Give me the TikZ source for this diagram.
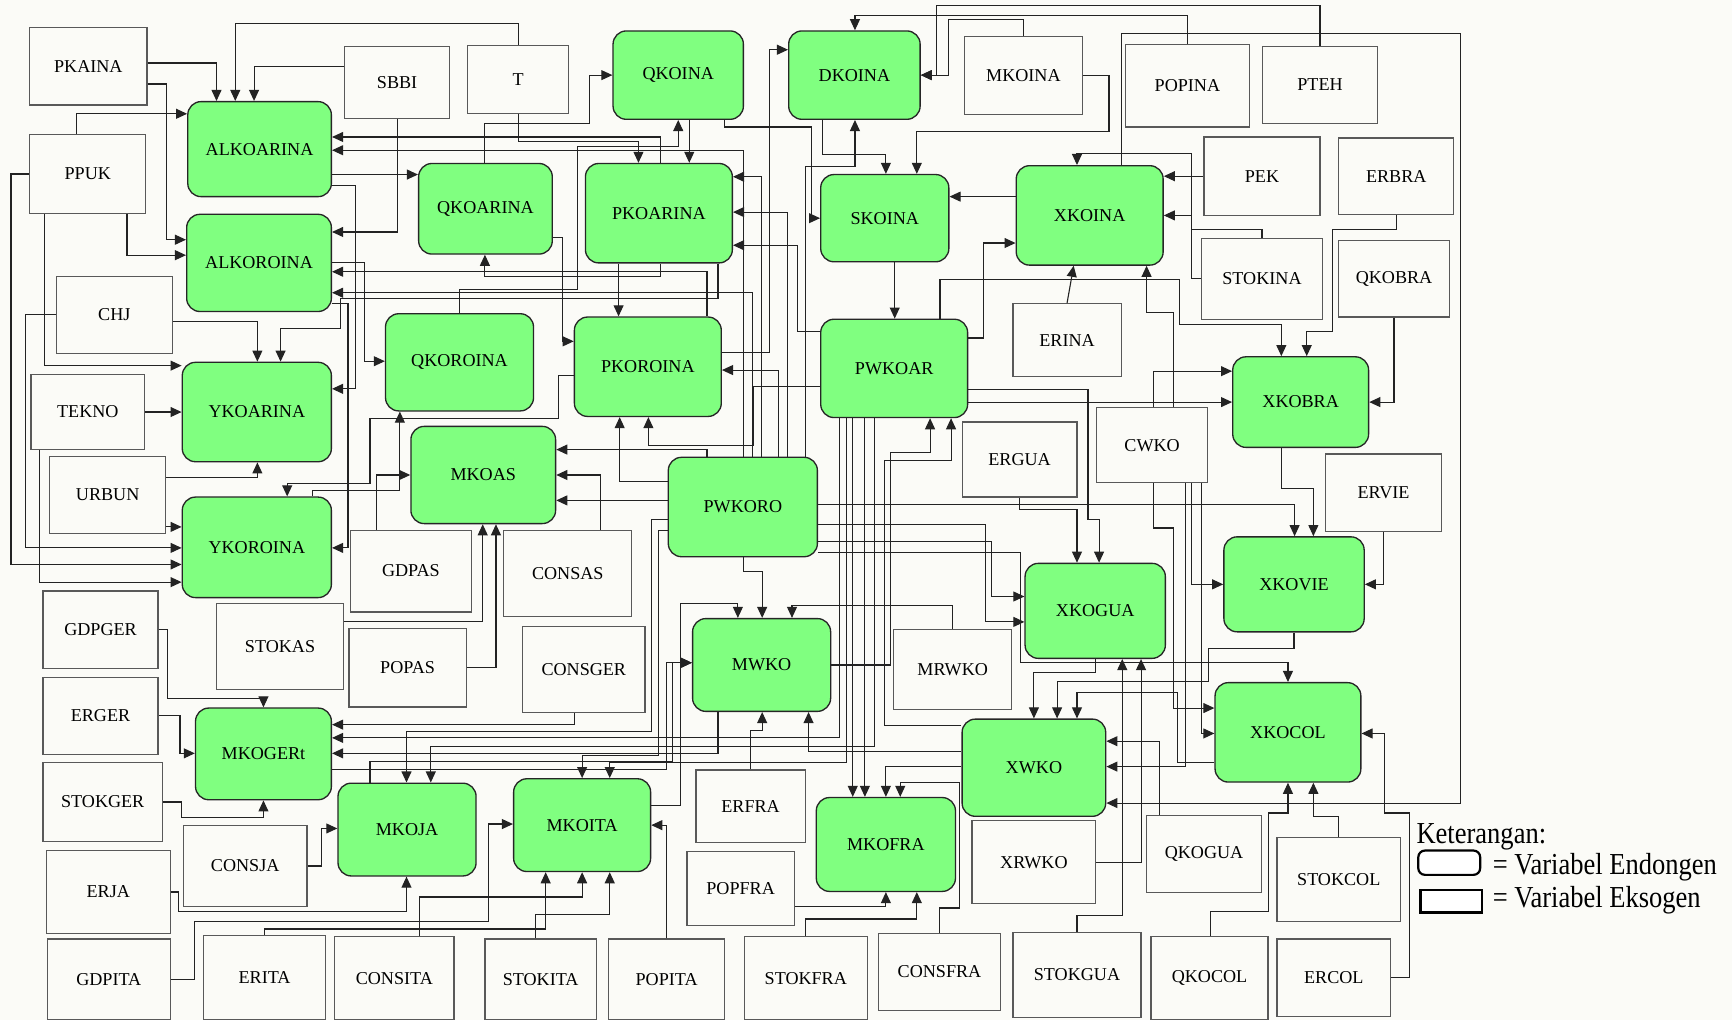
\documentclass[tikz,border=0pt]{standalone}
\usepackage{fontspec}
\setmainfont{Liberation Serif}
\newfontfamily\legfont[FakeStretch=0.87]{Liberation Serif}
\usetikzlibrary{arrows.meta}
\definecolor{endogreen}{RGB}{128,255,128}
\definecolor{paper}{RGB}{251,251,247}
\definecolor{wire}{RGB}{35,35,35}

\begin{document}
\begin{tikzpicture}[
	x=0.5pt, y=-0.5pt,
	exo/.style={
		rectangle,
		draw=black!65,
		line width=0.55pt,
		fill=paper,
		align=center,
		inner sep=0pt,
		font=\fontsize{8.2}{9}\selectfont
	},
	endo/.style={
		rectangle,
		draw=black!85,
		line width=0.6pt,
		rounded corners=6pt,
		fill=endogreen,
		align=center,
		inner sep=0pt,
		font=\fontsize{8.2}{9}\selectfont
	},
	arr/.style={
		draw=wire,
		line width=0.5pt,
		-{Triangle[length=5pt,width=4.5pt]}
	},
	legtext/.style={
		anchor=west,
		inner sep=0pt,
		font=\legfont\fontsize{13.8}{15}\selectfont
	},
]

\useasboundingbox (0,0) rectangle (1568,923);
\fill[paper] (0,0) rectangle (1568,923);

% exogenous variables
\foreach \n/\x/\y/\w/\h in {PKAINA/80/60/106/70, SBBI/359.5/74.5/95/65, T/469/72/92/62,
	MKOINA/926.5/68.5/107/71, POPINA/1075/77.5/112/75, PTEH/1195/77/104/70,
	PPUK/79.5/157.5/105/71, PEK/1142.5/159.5/105/71, ERBRA/1264/159.5/104/69,
	CHJ/103.5/285/105/70, STOKINA/1142.5/252.5/109/73, QKOBRA/1262/252.5/100/69,
	ERINA/966/308/98/66, TEKNO/79.5/373/103/68, ERGUA/923/416/104/68,
	CWKO/1043/403/100/68, URBUN/97.5/448/105/70, ERVIE/1252.5/446/105/70,
	GDPAS/372/517/110/74, CONSAS/514/519/116/78, GDPGER/91/570/104/70,
	STOKAS/253.5/585/115/78, POPAS/369/604.5/106/71, CONSGER/528.5/606/111/78,
	MRWKO/862.5/606/107/72, ERGER/91/648/104/70, STOKGER/93/726/108/72,
	ERFRA/679.5/730/99/66, CONSJA/222/784/112/74, XRWKO/936/780.5/112/75,
	QKOGUA/1090/773/104/70, STOKCOL/1212/796/112/76, ERJA/98/807.5/112/75,
	POPFRA/670.5/804.5/97/67, GDPITA/98.5/886.5/111/73, ERITA/239.5/885/111/76,
	CONSITA/357/885.5/108/75, STOKITA/489.5/886.5/101/73, POPITA/603.5/886.5/105/73,
	STOKFRA/729.5/885.5/111/75, CONSFRA/850.5/880/111/70, STOKGUA/975/882.5/116/77,
	QKOCOL/1095/885.5/106/75, ERCOL/1207.5/885/103/70}
	\node[exo, minimum width=\w*0.5pt, minimum height=\h*0.5pt] (\n) at (\x,\y) {\n};

% endogenous variables
\foreach \n/\x/\y/\w/\h in {ALKOARINA/235/135/130/86, ALKOROINA/234.5/238/131/88,
	QKOARINA/439.5/189/121/82, QKOINA/614/68/118/80, DKOINA/773.5/68/119/80,
	PKOARINA/596.5/193/133/90, SKOINA/801/197.5/116/79, XKOINA/986.5/195/133/90,
	YKOARINA/232.5/373/135/90, QKOROINA/416/328/134/88, PKOROINA/586.5/332/133/90,
	PWKOAR/809.5/333.5/133/89, XKOBRA/1177.5/364/123/82, MKOAS/437.5/430/131/88,
	PWKORO/672.5/459/135/90, YKOROINA/232.5/495.5/135/91, XKOVIE/1171.5/529/127/86,
	XKOGUA/991.5/553/127/86, MWKO/689.5/602/125/84, MKOGERt/238.5/682.5/123/83,
	XKOCOL/1166/663/132/90, XWKO/936/695/130/88, MKOJA/368.5/751/125/84,
	MKOITA/527/747/124/84, MKOFRA/802/764.5/126/85}
	\node[endo, minimum width=\w*0.5pt, minimum height=\h*0.5pt] (\n) at (\x,\y) {\n};

% Indonesia: area, yield, production
\draw[arr] (PKAINA.east |- 0,57) -| (ALKOARINA.north -| 196,0);
\draw[arr] (T.north) |- (213,21) -- (ALKOARINA.north -| 213,0);
\draw[arr] (SBBI.west |- 0,60) -| (ALKOARINA.north -| 230,0);
\draw[arr] (PPUK.north -| 69,0) |- (ALKOARINA.west |- 0,103);
\draw[arr] (PKOARINA.north -| 598,0) |- (ALKOARINA.east |- 0,124);
\draw[arr] (PWKORO.north -| 673,0) |- (ALKOARINA.east |- 0,136);
\draw[arr] (PKAINA.east |- 0,76) -| (151,217) -- (ALKOROINA.west |- 0,217);
\draw[arr] (PPUK.south -| 115,0) |- (ALKOROINA.west |- 0,231);
\draw[arr] (SBBI.south) |- (ALKOROINA.east |- 0,210);
\draw[arr] (PKOROINA.north -| 640,0) |- (ALKOROINA.east |- 0,246);
\draw[arr] (PWKORO.north -| 681,0) |- (ALKOROINA.east |- 0,265);
\draw[arr] (ALKOARINA.east |- 0,158) -- (QKOARINA.west |- 0,158);
\draw[arr] (PKOARINA.south -| 598,0) |- (439,250) -- (QKOARINA.south -| 439,0);
\draw[arr] (QKOARINA.north -| 439,0) |- (534,112) |- (QKOINA.west);
\draw[arr] (QKOROINA.north -| 416,0) |- (523,262) |- (614,133) -- (QKOINA.south -| 614,0);
\draw[arr] (QKOINA.south -| 624,0) -- (PKOARINA.north -| 624,0);
\draw[arr] (T.south) |- (578,128) -- (PKOARINA.north -| 578,0);
\draw[arr] (PWKORO.north -| 689,0) |- (PKOARINA.east |- 0,160);
\draw[arr] (PWKORO.north -| 713,0) |- (PKOARINA.east |- 0,192);
\draw[arr] (PWKOAR.west |- 0,300) -| (722,222) -- (PKOARINA.east |- 0,222);
\draw[arr] (PKOARINA.south -| 560,0) -- (PKOROINA.north -| 560,0);
\draw[arr] (QKOARINA.east |- 0,215) -| (509,309) -- (PKOROINA.west |- 0,309);
\draw[arr] (PWKORO.north -| 705,0) |- (PKOROINA.east |- 0,335);
\draw[arr] (PWKORO.west |- 0,436) -| (PKOROINA.south -| 561,0);
\draw[arr] (PWKOAR.west |- 0,350) -| (682,403) -| (PKOROINA.south -| 587,0);
\draw[arr] (ALKOROINA.east |- 0,238) -| (330,327) -- (QKOROINA.west |- 0,327);
\draw[arr] (YKOROINA.north -| 283,0) |- (362,444) -- (QKOROINA.south -| 362,0);
\draw[arr] (PPUK.south -| 40,0) |- (YKOARINA.west |- 0,331);
\draw[arr] (CHJ.east |- 0,291) -| (YKOARINA.north -| 233,0);
\draw[arr] (TEKNO.east) -- (YKOARINA.west |- TEKNO.east);
\draw[arr] (URBUN.east |- 0,432) -| (YKOARINA.south -| 233,0);
\draw[arr] (ALKOARINA.east |- 0,168) -| (322,352) -- (YKOARINA.east |- 0,352);
\draw[arr] (PKOARINA.south -| 650,0) |- (308,270) |- (254,297) -- (YKOARINA.north -| 254,0);
\draw[arr] (URBUN.east |- 0,477) -- (YKOROINA.west |- 0,477);
\draw[arr] (CHJ.west) -| (23,496) -- (YKOROINA.west |- 0,496);
\draw[arr] (PPUK.west) -| (10,511) -- (YKOROINA.west |- 0,511);
\draw[arr] (TEKNO.south -| 36,0) |- (YKOROINA.west |- 0,527);
\draw[arr] (PKOROINA.west |- 0,340) -| (506,379) -| (335,438) -| (YKOROINA.north -| 260,0);
\draw[arr] (ALKOROINA.east |- 0,275) -| (315,496) -- (YKOROINA.east |- 0,496);

% Indonesia: price, stock, export
\draw[arr] (POPINA.north) |- (774,14) -- (DKOINA.north -| 774,0);
\draw[arr] (PTEH.north) |- (848,5) |- (DKOINA.east);
\draw[arr] (MKOINA.north) |- (859,18) |- (DKOINA.east);
\draw[arr] (PKOROINA.east |- 0,319) -| (697,45) -- (DKOINA.west |- 0,45);
\draw[arr] (PWKORO.north -| 729,0) |- (774,151) -- (DKOINA.south -| 774,0);
\draw[arr] (QKOINA.south -| 656,0) |- (735,115) |- (SKOINA.west);
\draw[arr] (DKOINA.south -| 745,0) |- (802,140) -- (SKOINA.north -| 802,0);
\draw[arr] (MKOINA.east) -| (1004,119) -| (SKOINA.north -| 830,0);
\draw[arr] (XKOINA.west |- 0,178) -- (SKOINA.east |- 0,178);
\draw[arr] (STOKINA.north) |- (1079,208) |- (975,139) -- (XKOINA.north -| 975,0);
\draw[arr] (PEK.west) -- (XKOINA.east |- PEK.west);
\draw[arr] (STOKINA.west) -| (1079,195) -- (XKOINA.east |- 0,195);
\draw[arr] (ERINA.north) -- (XKOINA.south -| 972,0);
\draw[arr] (CWKO.north -| 1062,0) |- (1038,283) -- (XKOINA.south -| 1038,0);
\draw[arr] (PWKOAR.east |- 0,306) -| (890,220) -- (XKOINA.west |- 0,220);

% world price and exporters
\draw[arr] (SKOINA.south -| 810,0) -- (PWKOAR.north -| 810,0);
\draw[arr] (MWKO.east) -| (806,410) -| (PWKOAR.south -| 842,0);
\draw[arr] (XWKO.west |- 0,657) -| (801,417) -| (PWKOAR.south -| 861,0);
\draw[arr] (PWKOAR.north -| 851,0) |- (1068,253) |- (1160,294) -- (XKOBRA.north -| 1160,0);
\draw[arr] (ERBRA.south) |- (1206,208) |- (1183,300) -- (XKOBRA.north -| 1183,0);
\draw[arr] (QKOBRA.south) |- (XKOBRA.east |- 0,364);
\draw[arr] (CWKO.north -| 1044,0) |- (XKOBRA.west |- 0,336);
\draw[arr] (PWKOAR.east |- 0,364) -- (XKOBRA.west |- 0,364);
\draw[arr] (PWKOAR.east |- 0,353) -| (985,470) -| (XKOGUA.north -| 995,0);
\draw[arr] (XKOBRA.south -| 1160,0) |- (1189,442) -- (XKOVIE.north -| 1189,0);
\draw[arr] (PWKORO.east |- 0,457) -| (XKOVIE.north -| 1172,0);
\draw[arr] (CWKO.south -| 1079,0) |- (XKOVIE.west |- 0,529);
\draw[arr] (ERVIE.south) |- (XKOVIE.east |- 0,529);
\draw[arr] (ERGUA.south) |- (975,461) -- (XKOGUA.north -| 975,0);
\draw[arr] (PWKORO.east |- 0,490) -| (898,540) -- (XKOGUA.west |- 0,540);
\draw[arr] (PWKORO.east |- 0,475) -| (892,563) -- (XKOGUA.west |- 0,563);
\draw[arr] (STOKGUA.north) |- (1016,829) -- (XKOGUA.south -| 1016,0);
\draw[arr] (XRWKO.east) -| (XKOGUA.south -| 1033,0);
\draw[arr] (PWKORO.east |- 0,500) -| (924,600) -| (XKOCOL.north -| 1166,0);
\draw[arr] (CWKO.south -| 1044,0) |- (1062,478) |- (XKOCOL.west |- 0,641);
\draw[arr] (CWKO.south -| 1088,0) |- (XKOCOL.west |- 0,664);
\draw[arr] (ERCOL.east) -| (1276,736) -| (1253,664) -- (XKOCOL.east |- 0,664);
\draw[arr] (QKOCOL.north -| 1096,0) |- (1148,825) |- (1166,736) -- (XKOCOL.south -| 1166,0);
\draw[arr] (STOKCOL.north) |- (1189,739) -- (XKOCOL.south -| 1189,0);
\draw[arr] (XKOGUA.south -| 992,0) |- (936,609) -- (XWKO.north -| 936,0);
\draw[arr] (XKOVIE.south) |- (1094,587) |- (957,617) -- (XWKO.north -| 957,0);
\draw[arr] (XKOCOL.west |- 0,690) -| (1066,627) -| (XWKO.north -| 975,0);
\draw[arr] (QKOGUA.north -| 1050,0) |- (XWKO.east |- 0,671);
\draw[arr] (CWKO.south -| 1073,0) |- (XWKO.east |- 0,694);
\draw[arr] (XKOINA.north -| 1015,0) |- (1322,30) |- (XWKO.east |- 0,727);

% importers
\draw[arr] (PWKORO.south -| 673,0) |- (690,517) -- (MWKO.north -| 690,0);
\draw[arr] (MRWKO.north) |- (717,548) -- (MWKO.north -| 717,0);
\draw[arr] (MKOITA.east |- 0,729) -| (616,546) -| (MWKO.north -| 668,0);
\draw[arr] (MKOGERt.east |- 0,697) -| (603,600) -- (MWKO.west |- 0,600);
\draw[arr] (MKOJA.north -| 335,0) |- (609,689) |- (MWKO.west |- 0,600);
\draw[arr] (ERFRA.north) |- (690,661) -- (MWKO.south -| 690,0);
\draw[arr] (XWKO.west |- 0,680) -| (MWKO.south -| 732,0);
\draw[arr] (PWKOAR.south -| 772,0) -- (MKOFRA.north -| 772,0);
\draw[arr] (PWKOAR.south -| 783,0) -- (MKOFRA.north -| 783,0);
\draw[arr] (XWKO.west |- 0,694) -| (MKOFRA.north -| 802,0);
\draw[arr] (CONSFRA.north) |- (869,822) |- (815,708) -- (MKOFRA.north -| 815,0);
\draw[arr] (POPFRA.east |- 0,821) -| (MKOFRA.south -| 802,0);
\draw[arr] (STOKFRA.north) |- (830,832) -- (MKOFRA.south -| 830,0);
\draw[arr] (GDPGER.east) -| (152,632) -| (MKOGERt.north);
\draw[arr] (ERGER.east) -| (163,682) -- (MKOGERt.west |- 0,682);
\draw[arr] (STOKGER.east) -| (164,740) -| (MKOGERt.south);
\draw[arr] (CONSGER.south -| 520,0) |- (MKOGERt.east |- 0,656);
\draw[arr] (PWKOAR.south -| 760,0) |- (MKOGERt.east |- 0,668);
\draw[arr] (MWKO.south -| 650,0) |- (MKOGERt.east |- 0,682);
\draw[arr] (CONSJA.east |- 0,784) -| (291,750) -- (MKOJA.west |- 0,750);
\draw[arr] (ERJA.east) -| (162,825) -| (MKOJA.south -| 368,0);
\draw[arr] (PWKORO.west |- 0,470) -| (590,662) -| (MKOJA.north -| 368,0);
\draw[arr] (PWKOAR.south -| 792,0) |- (390,676) -- (MKOJA.north -| 390,0);
\draw[arr] (PWKORO.west |- 0,480) -| (596,684) -| (MKOITA.north -| 527,0);
\draw[arr] (PWKOAR.south -| 766,0) |- (552,690) -- (MKOITA.north -| 552,0);
\draw[arr] (POPITA.north) |- (MKOITA.east |- 0,747);
\draw[arr] (GDPITA.east) -| (176,834) -| (442,746) -- (MKOITA.west |- 0,746);
\draw[arr] (ERITA.north) |- (494,841) -- (MKOITA.south -| 494,0);
\draw[arr] (CONSITA.north -| 380,0) |- (527,812) -- (MKOITA.south -| 527,0);
\draw[arr] (STOKITA.north -| 485,0) |- (552,828) -- (MKOITA.south -| 552,0);
\draw[arr] (PWKORO.north -| 640,0) |- (MKOAS.east |- 0,407);
\draw[arr] (CONSAS.north -| 544,0) |- (MKOAS.east |- 0,430);
\draw[arr] (PWKORO.west |- 0,453) -- (MKOAS.east |- 0,453);
\draw[arr] (GDPAS.north -| 341,0) |- (MKOAS.west);
\draw[arr] (STOKAS.east |- 0,563) -| (MKOAS.south -| 437,0);
\draw[arr] (POPAS.east) -| (MKOAS.south -| 449,0);

% legend
\node[legtext] (legTitle) at (1282,758) {Keterangan:};
\node[draw=black, line width=1pt, rounded corners=3pt, fill=white,
	minimum width=28pt, minimum height=11pt] (legEndo) at (1312,781) {};
\node[legtext] (legEndoText) at (1351,785) {= Variabel Endongen};
\node[draw=black, line width=1pt, fill=white,
	minimum width=28pt, minimum height=10pt] (legExo) at (1314,816) {};
\node[legtext] (legExoText) at (1351,815) {= Variabel Eksogen};

\end{tikzpicture}
\end{document}
